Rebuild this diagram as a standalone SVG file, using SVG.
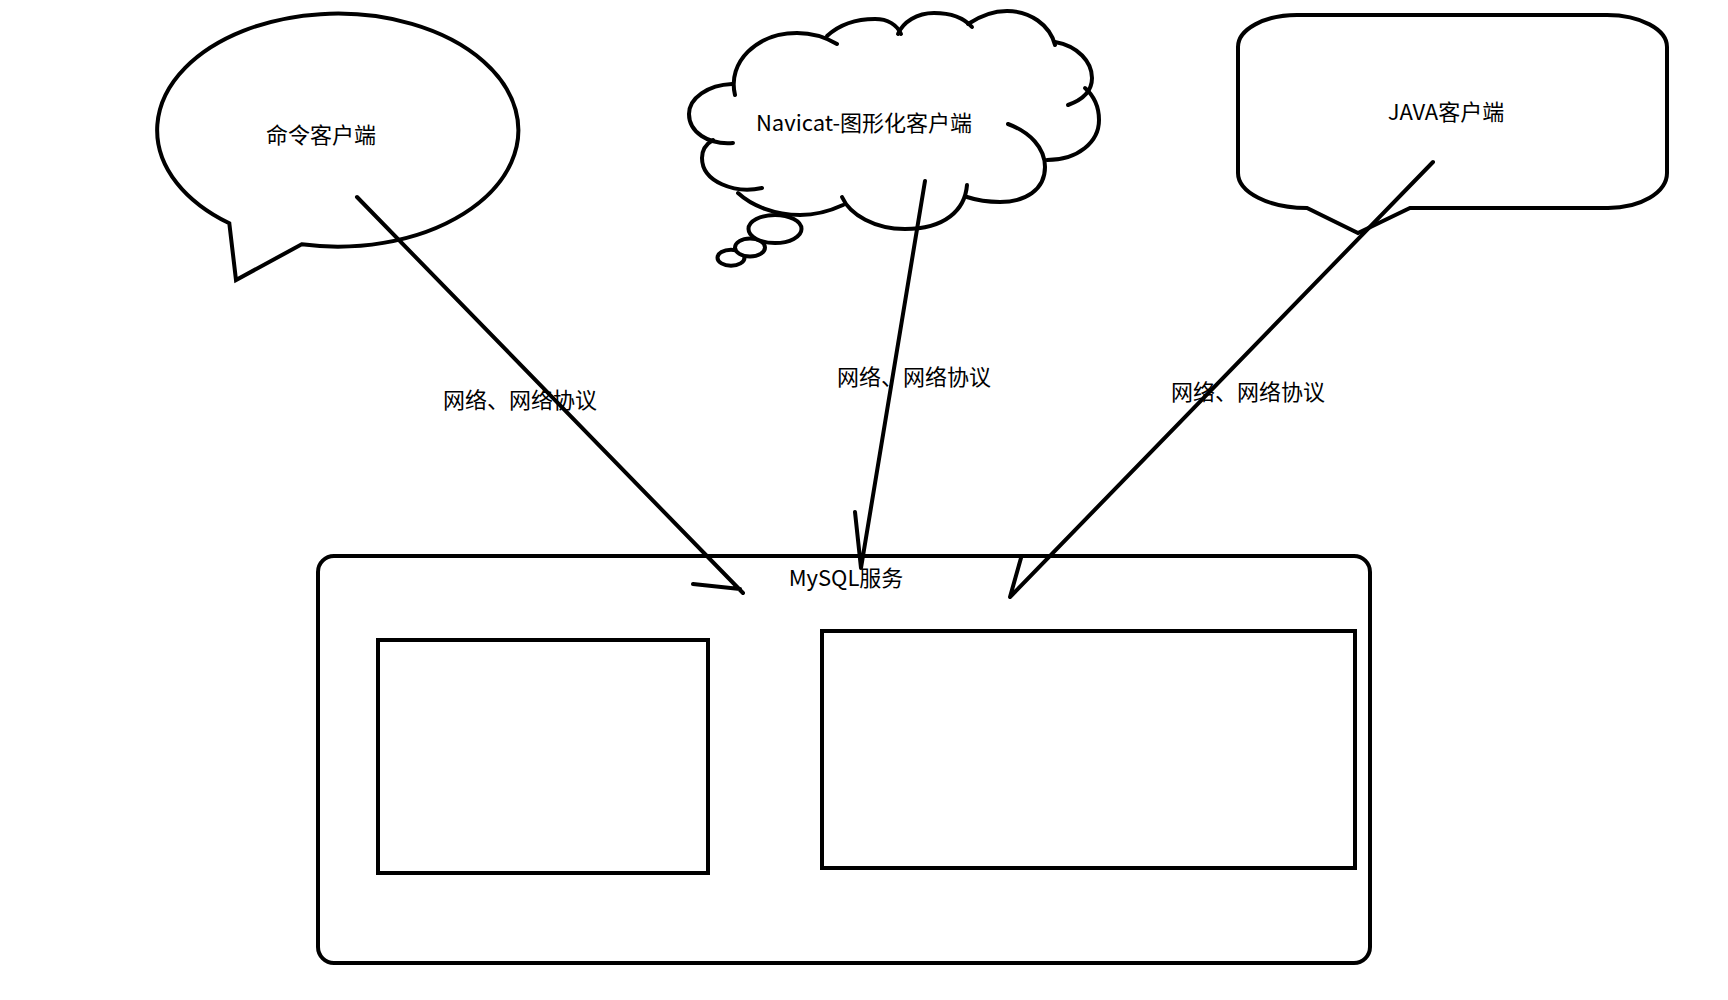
<svg xmlns="http://www.w3.org/2000/svg" width="1728" height="1000" viewBox="0 0 1728 1000">
<style>
.s{fill:#fff;stroke:#000;stroke-width:4;stroke-linejoin:miter}
.o{fill:none;stroke:#000;stroke-width:4;stroke-linecap:round}
.c{fill:none;stroke:#000;stroke-width:4;stroke-linecap:round;stroke-linejoin:round}
.t{font-family:"Noto Sans CJK SC","Microsoft YaHei",sans-serif;font-size:22px;fill:#000;text-anchor:middle}
</style>
<rect width="1728" height="1000" fill="#fff"/>
<g id="mysql">
<rect class="s" x="318" y="556" width="1052" height="407" rx="16" ry="16"/>
<rect class="s" x="378" y="640" width="330" height="233"/>
<rect class="s" x="822" y="631" width="533" height="237"/>
<text class="t" x="846" y="586">MySQL服务</text>
</g>
<g id="cmd-client">
<path class="s" d="M229.3,223.3 A180.6,116.5 0 1 1 301.7,244.3 L236,280 Z"/>
<text class="t" x="321" y="143">命令客户端</text>
</g>
<g id="navicat-client">
<path class="o" d="M735,95 C727,62 757,33 797,33 C812,33 827,38 837,44"/>
<path class="o" d="M827,36 C840,24 858,19 875,19 C888,19 897,25 901,34"/>
<path class="o" d="M898,34 C903,22 917,13 934,13 C950,13 964,18 972,27"/>
<path class="o" d="M968,24 C980,16 994,11 1007,11 C1030,11 1050,25 1055,45"/>
<path class="o" d="M1055,42 C1078,46 1092,62 1092,78 C1092,92 1082,100 1068,105"/>
<path class="o" d="M1085,88 C1094,96 1099,108 1099,120 C1099,142 1078,160 1047,160"/>
<path class="o" d="M1008,124 C1030,132 1045,148 1045,167 C1045,190 1025,202 1000,202 C988,202 976,200 967,197"/>
<path class="o" d="M967,185 C965,210 945,229 905,229 C875,229 850,215 842,197"/>
<path class="o" d="M843,205 C830,211 816,215 800,215 C775,215 752,206 738,193"/>
<path class="o" d="M762,188 C735,194 702,182 702,158 C702,150 706,144 713,140"/>
<path class="o" d="M732,84 C708,85 689,98 689,114 C689,132 708,145 733,143"/>
<ellipse class="s" cx="731" cy="257.7" rx="13.5" ry="8"/>
<ellipse class="s" cx="750" cy="247.5" rx="15" ry="9"/>
<ellipse class="s" cx="775" cy="229" rx="26.5" ry="14"/>
<text class="t" x="864" y="131">Navicat-图形化客户端</text>
</g>
<g id="java-client">
<path class="s" d="M1297,15 H1607 A60,32 0 0 1 1667,47 V173 A59,35 0 0 1 1608,208 H1410 L1358,233 L1307,208 A69,35 0 0 1 1238,173 V47 A59,32 0 0 1 1297,15 Z"/>
<text class="t" x="1446" y="120">JAVA客户端</text>
</g>
<g id="connectors">
<path class="c" d="M357,197 L743,593 M693,584 L740,589"/>
<path class="c" d="M925,181 L861,568 L855,512"/>
<path class="c" d="M1433,162 L1010,597 L1021,558"/>
</g>
<g id="labels">
<text class="t" x="520" y="408">网络、网络协议</text>
<text class="t" x="914" y="385">网络、网络协议</text>
<text class="t" x="1248" y="400">网络、网络协议</text>
</g>
</svg>
